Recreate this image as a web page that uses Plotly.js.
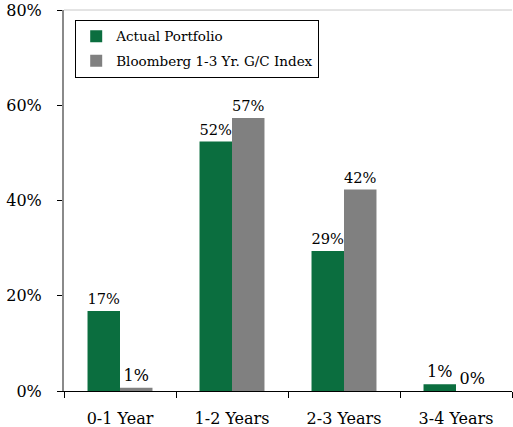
<!DOCTYPE html>
<html>
<head>
<meta charset="utf-8">
<script src="https://cdn.plot.ly/plotly-3.0.1.min.js"></script>
<style>html,body{margin:0;padding:0;background:#fff;}#chart{width:513px;height:427px;}</style>
</head>
<body>
<div id="chart"></div>
<script>
var categories = ['0-1 Year', '1-2 Years', '2-3 Years', '3-4 Years'];
var actualPortfolio = [16.8, 52.4, 29.4, 1.4];
var benchmarkIndex = [0.7, 57.3, 42.3, 0.0];
var seriesNames = ['Actual Portfolio', 'Bloomberg 1-3 Yr. G/C Index'];
var yTicks = [0, 20, 40, 60, 80];
var yTickLabels = ['0%', '20%', '40%', '60%', '80%'];

var serif = 'DejaVu Serif, Liberation Serif, serif';

var traces = [
  {
    type: 'bar', name: seriesNames[0], x: categories, y: actualPortfolio,
    legendgroup: 'a',
    marker: {color: '#0b6e3f', line: {width: 0}},
    texttemplate: '%{y:.0f}%', textposition: 'outside', cliponaxis: false,
    textfont: {family: serif, size: 16, color: '#000'},
    hoverinfo: 'none'
  },
  {
    type: 'bar', name: seriesNames[1], x: categories, y: benchmarkIndex,
    legendgroup: 'b',
    marker: {color: '#808080', line: {width: 0}},
    texttemplate: '%{y:.0f}%', textposition: 'outside', cliponaxis: false,
    textfont: {family: serif, size: 16, color: '#000'},
    hoverinfo: 'none'
  }
];

var layout = {
  width: 513, height: 427,
  margin: {l: 64, r: 1, t: 10, b: 36, pad: 0},
  paper_bgcolor: '#fff', plot_bgcolor: '#fff',
  barmode: 'group', bargap: 0.42, bargroupgap: 0,
  font: {family: serif, size: 16, color: '#000'},
  showlegend: true,
  legend: {
    x: 0.025, y: 0.974, xanchor: 'left', yanchor: 'top',
    bordercolor: '#000', borderwidth: 1, bgcolor: '#fff',
    font: {family: serif, size: 13.5, color: '#000'},
    traceorder: 'grouped', tracegroupgap: 4
  },
  xaxis: {
    type: 'category', showgrid: false, zeroline: false,
    showline: true, linecolor: '#000', linewidth: 1,
    ticks: 'outside', tickson: 'boundaries', ticklen: 6, tickcolor: '#000', tickwidth: 1,
    ticklabelstandoff: 13,
    tickfont: {family: serif, size: 16, color: '#000'}
  },
  yaxis: {
    range: [0, 80], tickmode: 'array', tickvals: yTicks, ticktext: yTickLabels,
    showgrid: false, zeroline: false,
    showline: true, linecolor: '#8a8a8a', linewidth: 2,
    ticks: 'outside', ticklen: 5, tickcolor: '#000', tickwidth: 1,
    ticklabelstandoff: 12,
    tickfont: {family: serif, size: 16, color: '#000'}
  },
  shapes: [
    {type: 'line', xref: 'paper', yref: 'paper', x0: 0, x1: 1, y0: 1, y1: 1,
     line: {color: '#c8c8c8', width: 1}}
  ]
};

Plotly.newPlot('chart', traces, layout, {displayModeBar: false, staticPlot: true});
</script>
</body>
</html>
